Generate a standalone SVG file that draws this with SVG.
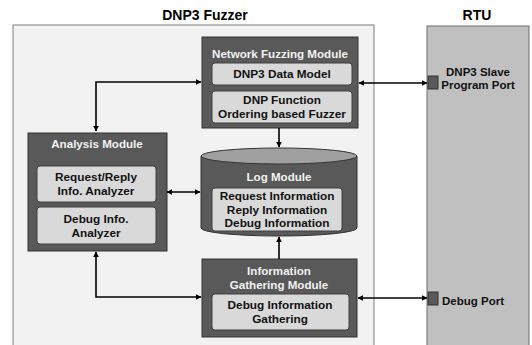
<svg xmlns="http://www.w3.org/2000/svg" width="532" height="345" viewBox="0 0 532 345">
<defs>
<style>
.t{font-family:"Liberation Sans",Arial,sans-serif;font-weight:bold;text-anchor:middle}
.hd{font-size:14px;fill:#000}
.mt{font-size:11.6px;fill:#f2f2f2}
.it{font-size:11.8px;fill:#111}
.pt{font-size:11.5px;fill:#111}
.mod{fill:#595959;stroke:#333;stroke-width:1}
.in{fill:#d9d9d9;stroke:#404040;stroke-width:1}
.ln{fill:none;stroke:#000;stroke-width:1.6}
.port{fill:#595959;stroke:#333;stroke-width:1}
</style>
<marker id="ah" viewBox="0 0 10 10" refX="9" refY="5" markerWidth="6" markerHeight="6" orient="auto-start-reverse" markerUnits="userSpaceOnUse">
<path d="M0,0 L10,5 L0,10 z" fill="#000"/>
</marker>
</defs>
<rect width="532" height="345" fill="#fff"/>

<g id="fuzzer-panel">
<rect x="13" y="25" width="361" height="330" fill="#f2f2f2" stroke="#7f7f7f" stroke-width="1"/>
<text class="t hd" x="205" y="20">DNP3 Fuzzer</text>
</g>

<g id="rtu-panel">
<rect x="427" y="26" width="102" height="330" fill="#c0c0c0" stroke="#6f6f6f" stroke-width="1"/>
<text class="t hd" x="477" y="20">RTU</text>
</g>

<g id="network-fuzzing-module">
<rect class="mod" x="202" y="37" width="156" height="91"/>
<text class="t mt" x="280" y="58">Network Fuzzing Module</text>
<rect class="in" x="212" y="63" width="140" height="22" rx="3"/>
<text class="t it" x="282" y="78">DNP3 Data Model</text>
<rect class="in" x="212" y="91" width="140" height="32" rx="3"/>
<text class="t it" x="282" y="104">DNP Function</text>
<text class="t it" x="282" y="118">Ordering based Fuzzer</text>
</g>

<g id="log-module">
<path d="M201,156 L201,228 A78,8 0 0 0 357,228 L357,156" fill="#595959" stroke="#333" stroke-width="1"/>
<ellipse cx="279" cy="156" rx="78" ry="8" fill="#a0a0a0" stroke="#333" stroke-width="1"/>
<text class="t mt" x="279" y="181">Log Module</text>
<rect class="in" x="212" y="188" width="130" height="43" rx="3"/>
<text class="t it" x="277" y="200">Request Information</text>
<text class="t it" x="277" y="214">Reply Information</text>
<text class="t it" x="277" y="227">Debug Information</text>
</g>

<g id="analysis-module">
<rect class="mod" x="28" y="133" width="139" height="118"/>
<text class="t mt" x="97" y="148">Analysis Module</text>
<rect class="in" x="37" y="166" width="119" height="36" rx="3"/>
<text class="t it" x="96" y="181">Request/Reply</text>
<text class="t it" x="96" y="195">Info. Analyzer</text>
<rect class="in" x="37" y="207" width="119" height="37" rx="3"/>
<text class="t it" x="96" y="223">Debug Info.</text>
<text class="t it" x="96" y="237">Analyzer</text>
</g>

<g id="information-gathering-module">
<rect class="mod" x="202" y="259" width="155" height="78"/>
<text class="t mt" x="279" y="275">Information</text>
<text class="t mt" x="279" y="289">Gathering Module</text>
<rect class="in" x="212" y="294" width="137" height="36" rx="3"/>
<text class="t it" x="280" y="309">Debug Information</text>
<text class="t it" x="280" y="323">Gathering</text>
</g>

<g id="dnp3-slave-port">
<rect class="port" x="428" y="76" width="10" height="13"/>
<text class="t pt" x="478" y="76">DNP3 Slave</text>
<text class="t pt" x="478" y="89">Program Port</text>
</g>

<g id="debug-port">
<rect class="port" x="428" y="292" width="10" height="13"/>
<text class="t pt" x="442" y="305" style="text-anchor:start">Debug Port</text>
</g>

<g id="connectors">
<path class="ln" d="M96,131 L96,82 L201,82" marker-start="url(#ah)" marker-end="url(#ah)"/>
<path class="ln" d="M359,83 L427,83" marker-start="url(#ah)" marker-end="url(#ah)"/>
<path class="ln" d="M279,128 L279,147" marker-end="url(#ah)"/>
<path class="ln" d="M167,192 L200,192" marker-start="url(#ah)" marker-end="url(#ah)"/>
<path class="ln" d="M279,259 L279,237" marker-end="url(#ah)"/>
<path class="ln" d="M96,252 L96,297 L201,297" marker-start="url(#ah)" marker-end="url(#ah)"/>
<path class="ln" d="M358,298 L427,298" marker-start="url(#ah)" marker-end="url(#ah)"/>
</g>
</svg>
